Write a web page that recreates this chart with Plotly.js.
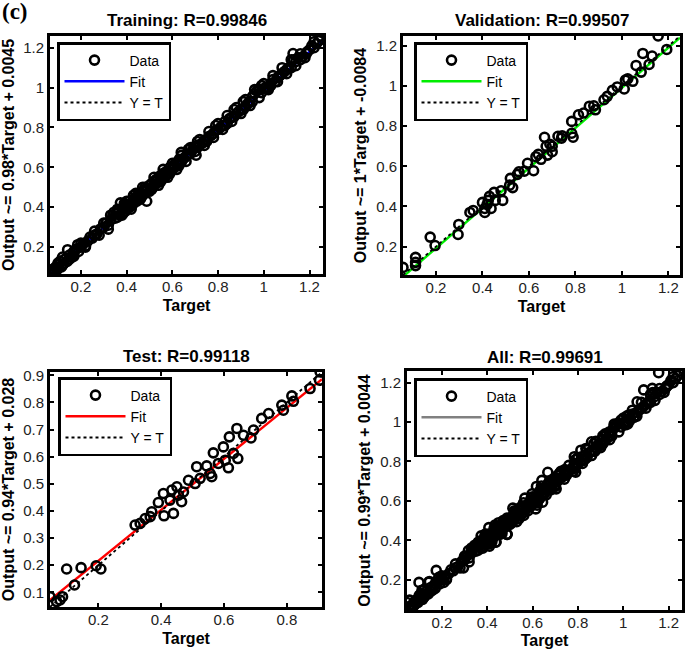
<!DOCTYPE html>
<html><head><meta charset="utf-8">
<script src="https://cdn.plot.ly/plotly-3.0.1.min.js"></script>
<style>html,body{margin:0;padding:0;background:#fff}#chart{width:685px;height:649px}</style>
</head><body><div id="chart"></div>
<script>
// ---------------- DATA ----------------
const trainTarget = [0.065,0.07,0.075,0.08,0.085,0.09,0.095,0.10,0.105,0.11,0.115,0.12,0.125,0.13,0.14,0.142,0.15,0.16,0.165,0.17,0.18,0.186,0.19,0.2,0.21,0.22,0.23,0.24,0.25,0.26,0.27,0.286,0.3,0.31,0.32,0.33,0.34,0.35,0.355,0.36,0.365,0.37,0.373,0.38,0.385,0.39,0.395,0.4,0.405,0.41,0.415,0.42,0.425,0.43,0.435,0.44,0.445,0.45,0.455,0.46,0.465,0.47,0.475,0.48,0.488,0.49,0.5,0.505,0.51,0.515,0.52,0.525,0.53,0.54,0.545,0.55,0.555,0.56,0.57,0.575,0.58,0.59,0.6,0.605,0.61,0.62,0.625,0.63,0.639,0.64,0.65,0.66,0.67,0.68,0.69,0.7,0.704,0.71,0.72,0.73,0.74,0.75,0.76,0.77,0.78,0.79,0.8,0.81,0.82,0.83,0.84,0.85,0.86,0.87,0.88,0.89,0.9,0.91,0.92,0.93,0.94,0.95,0.96,0.97,0.98,0.99,1.0,1.01,1.02,1.03,1.04,1.05,1.06,1.07,1.08,1.09,1.1,1.11,1.12,1.128,1.13,1.14,1.15,1.16,1.17,1.186,1.19,1.2,1.21,1.22,1.23,1.24,1.248,
  0.33,0.36,0.38,0.40,0.42,0.44,0.46,0.48,0.50,0.52,0.54,0.56,0.58,0.60,0.62,0.64,0.66,0.68,0.70,0.72,0.74,0.76,0.78,0.80,0.82,0.84,0.86,0.88,0.90,0.92,0.94,0.96,0.98,1.00,1.02,1.04,1.06,1.08,1.10,1.12,1.14,1.16,1.18,1.22,0.2,0.22,0.26,0.28,0.3,0.32,0.345,0.39,0.43,0.47,0.51,0.55,0.59,0.63,0.67,0.71,0.75,0.79,0.83,0.87,0.91,0.95,0.99,1.03,0.12,0.1,0.15,0.17];
const trainOutput = [0.069,0.072,0.066,0.09,0.078,0.10,0.085,0.12,0.098,0.13,0.10,0.15,0.117,0.14,0.128,0.187,0.16,0.148,0.17,0.155,0.19,0.212,0.178,0.20,0.215,0.205,0.23,0.25,0.245,0.26,0.265,0.291,0.30,0.32,0.31,0.335,0.36,0.345,0.37,0.35,0.385,0.36,0.422,0.39,0.37,0.40,0.38,0.41,0.395,0.43,0.40,0.42,0.41,0.44,0.425,0.45,0.43,0.46,0.44,0.47,0.45,0.48,0.465,0.49,0.43,0.485,0.51,0.49,0.52,0.50,0.53,0.515,0.54,0.525,0.555,0.56,0.54,0.57,0.555,0.58,0.57,0.60,0.59,0.61,0.60,0.625,0.61,0.64,0.675,0.63,0.645,0.655,0.665,0.67,0.69,0.705,0.661,0.70,0.715,0.72,0.735,0.74,0.755,0.76,0.77,0.785,0.79,0.80,0.81,0.83,0.82,0.845,0.85,0.855,0.87,0.88,0.89,0.89,0.905,0.92,0.93,0.955,0.97,0.985,0.99,0.975,0.995,1.0,0.99,1.02,1.04,1.03,1.05,1.06,1.07,1.08,1.09,1.10,1.10,1.171,1.14,1.13,1.15,1.14,1.155,1.171,1.18,1.19,1.21,1.20,1.22,1.235,1.259,
  0.36,0.39,0.36,0.43,0.39,0.47,0.44,0.50,0.48,0.55,0.51,0.59,0.55,0.62,0.59,0.66,0.63,0.70,0.68,0.74,0.71,0.78,0.75,0.82,0.79,0.86,0.83,0.90,0.87,0.94,0.91,0.99,0.95,1.02,1.00,1.06,1.03,1.10,1.07,1.14,1.11,1.17,1.15,1.23,0.22,0.20,0.28,0.26,0.32,0.29,0.375,0.42,0.46,0.50,0.49,0.53,0.57,0.61,0.69,0.73,0.73,0.81,0.81,0.89,0.93,0.93,1.01,1.01,0.11,0.11,0.14,0.18];

const valTarget = [0.058,0.112,0.112,0.112,0.175,0.196,0.295,0.298,0.346,0.36,0.40,0.41,0.41,0.425,0.437,0.45,0.455,0.487,0.48,0.517,0.52,0.53,0.557,0.58,0.594,0.62,0.63,0.652,0.674,0.68,0.70,0.667,0.69,0.725,0.743,0.784,0.79,0.784,0.813,0.835,0.86,0.886,0.879,0.923,0.937,0.959,0.98,1.01,1.015,1.025,1.047,1.061,1.083,1.09,1.117,1.13,1.156,1.193,0.64,0.70,0.74,0.55,0.42,0.43];
const valOutput = [0.096,0.146,0.121,0.105,0.247,0.205,0.26,0.31,0.37,0.38,0.42,0.39,0.37,0.43,0.39,0.47,0.43,0.43,0.478,0.506,0.54,0.494,0.573,0.576,0.615,0.578,0.648,0.635,0.70,0.656,0.673,0.745,0.71,0.75,0.752,0.765,0.745,0.824,0.857,0.866,0.90,0.882,0.902,0.932,0.949,0.979,0.996,0.986,1.03,1.036,1.024,1.103,1.07,1.163,1.108,1.15,1.25,1.183,0.66,0.70,0.74,0.56,0.41,0.45];

const testTarget = [0.046,0.078,0.086,0.067,0.099,0.124,0.145,0.193,0.208,0.317,0.333,0.349,0.365,0.37,0.391,0.407,0.409,0.428,0.439,0.434,0.45,0.455,0.465,0.471,0.487,0.508,0.513,0.524,0.545,0.556,0.561,0.566,0.582,0.598,0.604,0.614,0.617,0.63,0.641,0.644,0.662,0.686,0.694,0.72,0.742,0.784,0.789,0.816,0.821,0.874,0.906,0.904];
const testOutput = [0.084,0.072,0.084,0.066,0.186,0.127,0.191,0.198,0.186,0.348,0.354,0.372,0.379,0.397,0.431,0.464,0.382,0.44,0.391,0.477,0.489,0.458,0.434,0.47,0.513,0.501,0.563,0.52,0.566,0.538,0.526,0.614,0.575,0.636,0.587,0.559,0.673,0.612,0.704,0.593,0.679,0.669,0.698,0.741,0.759,0.79,0.771,0.824,0.804,0.851,0.912,0.882];

const allTarget = trainTarget.concat(valTarget, testTarget);
const allOutput = trainOutput.concat(valOutput, testOutput);

const panelTitles = ['Training: R=0.99846', 'Validation: R=0.99507', 'Test: R=0.99118', 'All: R=0.99691'];
const yAxisLabels = ['Output ~= 0.98*Target + 0.0045', 'Output ~= 1*Target + -0.0084', 'Output ~= 0.94*Target + 0.028', 'Output ~= 0.99*Target + 0.0044'];
const xAxisLabel = 'Target';
const fitSlopes = [0.98, 1, 0.94, 0.99];
const fitIntercepts = [0.0045, -0.0084, 0.028, 0.0044];
const legendNames = ['Data', 'Fit', 'Y = T'];
const mainTickVals = [0.2, 0.4, 0.6, 0.8, 1, 1.2];
const mainTickText = ['0.2', '0.4', '0.6', '0.8', '1', '1.2'];
const testXTickVals = [0.2, 0.4, 0.6, 0.8];
const testXTickText = ['0.2', '0.4', '0.6', '0.8'];
const testYTickVals = [0.1, 0.2, 0.3, 0.4, 0.5, 0.6, 0.7, 0.8, 0.9];
const testYTickText = ['0.1', '0.2', '0.3', '0.4', '0.5', '0.6', '0.7', '0.8', '0.9'];

// ---------------- STYLE ----------------
const fitColors = ['#0000ff', '#00ee00', '#ff0000', '#808080'];
const FONT = 'Liberation Sans, Arial, Helvetica, sans-serif';
const W = 685, H = 649;
// plot boxes in pixels [left, right, top, bottom]
const boxes = [[50, 323, 36, 274], [403, 680, 36, 275], [50, 322, 372, 607], [407, 682, 371, 610]];
const legendPos = [[57, 42], [414, 42], [58, 377], [414, 378]];
const titleY = [21, 21, 356, 357];

const sets = [
  {t: trainTarget, o: trainOutput},
  {t: valTarget, o: valOutput},
  {t: testTarget, o: testOutput},
  {t: allTarget, o: allOutput}
];
const ticks = [
  [mainTickVals, mainTickText, mainTickVals, mainTickText],
  [mainTickVals, mainTickText, mainTickVals, mainTickText],
  [testXTickVals, testXTickText, testYTickVals, testYTickText],
  [mainTickVals, mainTickText, mainTickVals, mainTickText]
];

const traces = [];
const layout = {
  width: W, height: H,
  margin: {l: 0, r: 0, t: 0, b: 0},
  paper_bgcolor: '#fff', plot_bgcolor: '#fff',
  font: {family: FONT, color: '#000'},
  showlegend: true,
  annotations: [{
    text: '<b>(c)</b>', xref: 'paper', yref: 'paper', x: 0, y: 1.004,
    xanchor: 'left', yanchor: 'top', showarrow: false,
    font: {family: 'Liberation Serif, Times New Roman, serif', size: 23, color: '#000'}
  }]
};

sets.forEach((s, i) => {
  const n = i + 1;
  const xa = n === 1 ? 'x' : 'x' + n;
  const ya = n === 1 ? 'y' : 'y' + n;
  const lg = n === 1 ? 'legend' : 'legend' + n;
  const lo = Math.min(Math.min(...s.t), Math.min(...s.o));
  const hi = Math.max(Math.max(...s.t), Math.max(...s.o));
  const rng = [lo, hi];

  // draw order: fit line, Y = T line, then data circles on top
  traces.push({
    type: 'scatter', mode: 'lines', x: rng, y: rng.map(v => fitSlopes[i] * v + fitIntercepts[i]),
    xaxis: xa, yaxis: ya, name: legendNames[1], legend: lg, legendrank: 2, showlegend: true,
    line: {color: fitColors[i], width: 2.4}, hoverinfo: 'skip'
  });
  traces.push({
    type: 'scatter', mode: 'lines', x: rng, y: rng,
    xaxis: xa, yaxis: ya, name: legendNames[2], legend: lg, legendrank: 3, showlegend: true,
    line: {color: '#000', width: 1.8, dash: 'dot'}, hoverinfo: 'skip'
  });
  traces.push({
    type: 'scatter', mode: 'markers', x: s.t, y: s.o, xaxis: xa, yaxis: ya,
    name: legendNames[0], legend: lg, legendrank: 1, showlegend: true,
    marker: {symbol: 'circle-open', size: 9, color: '#000', line: {width: 2.6, color: '#000'}},
    hoverinfo: 'skip', cliponaxis: true
  });

  const b = boxes[i];
  const axisCommon = {
    range: rng, showgrid: false, zeroline: false,
    showline: true, linecolor: '#000', linewidth: 2.8, mirror: 'allticks',
    ticks: 'inside', ticklen: 4, tickwidth: 2, tickcolor: '#000',
    tickfont: {family: FONT, size: 15, color: '#222'}
  };
  layout[n === 1 ? 'xaxis' : 'xaxis' + n] = Object.assign({}, axisCommon, {
    domain: [b[0] / W, b[1] / W], anchor: ya, ticklabelstandoff: -3,
    tickvals: ticks[i][0], ticktext: ticks[i][1],
    title: {text: '<b>' + xAxisLabel + '</b>', font: {family: FONT, size: 16, color: '#000'}, standoff: 6}
  });
  layout[n === 1 ? 'yaxis' : 'yaxis' + n] = Object.assign({}, axisCommon, {
    domain: [1 - b[3] / H, 1 - b[2] / H], anchor: xa,
    tickvals: ticks[i][2], ticktext: ticks[i][3],
    title: {text: '<b>' + yAxisLabels[i] + '</b>', font: {family: FONT, size: 16, color: '#000'}, standoff: 6}
  });
  layout[lg] = {
    x: legendPos[i][0] / W, y: 1 - legendPos[i][1] / H, xanchor: 'left', yanchor: 'top',
    xref: 'paper', yref: 'paper', traceorder: 'normal',
    bgcolor: '#fff', bordercolor: '#000', borderwidth: 2.5,
    font: {family: FONT, size: 14, color: '#000'}, itemwidth: 60,
    entrywidth: 62, entrywidthmode: 'pixels', tracegroupgap: 0
  };
  layout.annotations.push({
    text: '<b>' + panelTitles[i] + '</b>', xref: 'paper', yref: 'paper',
    x: (b[0] + b[1]) / 2 / W, y: 1 - titleY[i] / H, xanchor: 'center', yanchor: 'middle',
    showarrow: false, font: {family: FONT, size: 17, color: '#000'}
  });
});

Plotly.newPlot('chart', traces, layout, {displayModeBar: false, responsive: false});
</script>
</body></html>
